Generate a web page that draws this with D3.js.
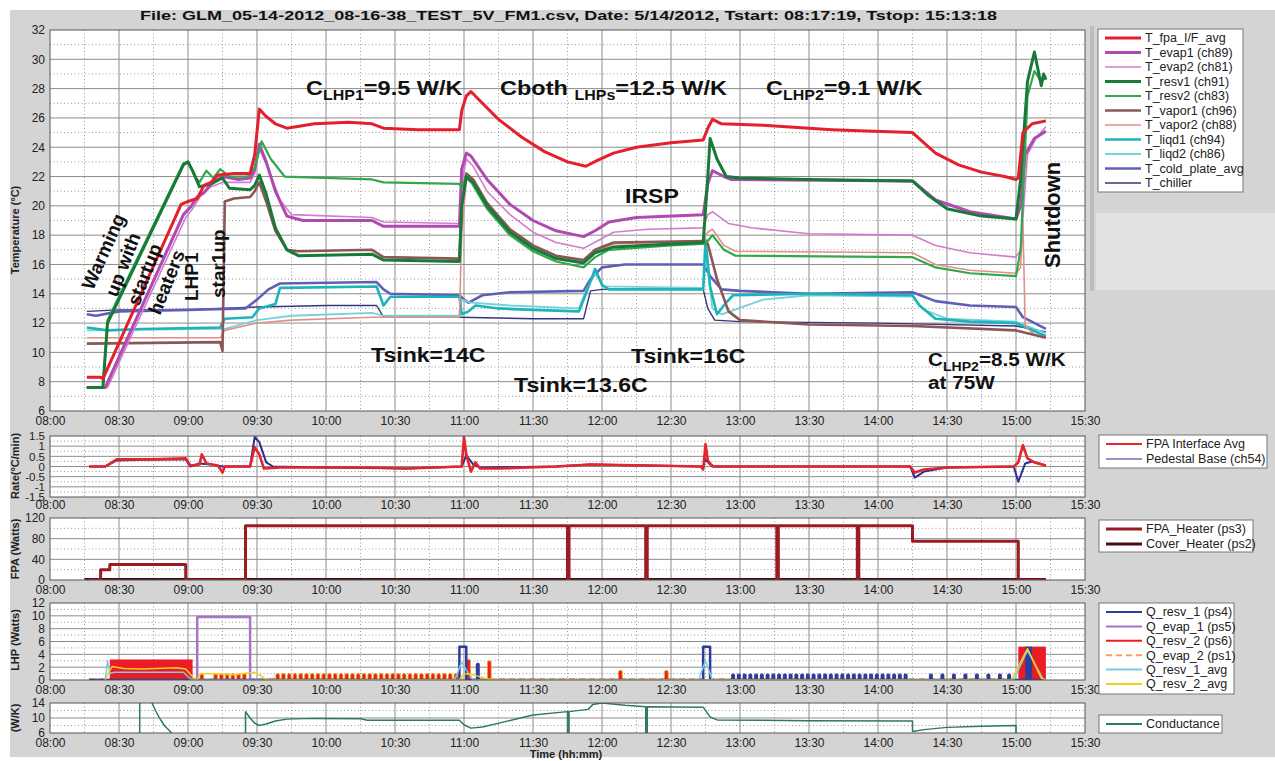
<!DOCTYPE html>
<html>
<head>
<meta charset="utf-8">
<script src="https://cdn.jsdelivr.net/npm/d3@7"></script>
<style>
  body { margin: 0; background: #fff; }
  svg { display: block; }
  text { font-family: "Liberation Sans", Arial, sans-serif; }
</style>
</head>
<body>
<svg id="chart" width="1275" height="761"></svg>
<script>
// ---------------- data ----------------
var timeTicks = ["08:00","08:30","09:00","09:30","10:00","10:30","11:00","11:30","12:00","12:30","13:00","13:30","14:00","14:30","15:00","15:30"];
var tempTicks = [6,8,10,12,14,16,18,20,22,24,26,28,30,32];
var rateTicks = [-1.5,-1,-0.5,0,0.5,1,1.5];
var fpaTicks = [0,40,80,120];
var lhpTicks = [0,2,4,6,8,10,12];
var condTicks = [6,10,14];

var tempNames = ["T_fpa_I/F_avg","T_evap1 (ch89)","T_evap2 (ch81)","T_resv1 (ch91)","T_resv2 (ch83)","T_vapor1 (ch96)","T_vapor2 (ch88)","T_liqd1 (ch94)","T_liqd2 (ch86)","T_cold_plate_avg","T_chiller"];
var rateNames = ["FPA Interface Avg","Pedestal Base (ch54)"];
var fpaNames = ["FPA_Heater (ps3)","Cover_Heater (ps2)"];
var lhpNames = ["Q_resv_1 (ps4)","Q_evap_1 (ps5)","Q_resv_2 (ps6)","Q_evap_2 (ps1)","Q_resv_1_avg","Q_resv_2_avg"];
var condNames = ["Conductance"];

var tFpa = [["08:16",8.3],["08:22",8.3],["08:23",8.2],["08:57",20.1],["09:00",20.3],["09:04",20.5],["09:07",21.4],["09:10",21.6],["09:13",22.1],["09:20",22.2],["09:27",22.2],["09:29",23.5],["09:31",26.6],["09:34",26.1],["09:38",25.6],["09:43",25.3],["09:55",25.6],["10:10",25.7],["10:20",25.6],["10:25",25.3],["10:40",25.2],["10:58",25.2],["10:59",26.5],["11:01",27.5],["11:03",27.8],["11:08",27.0],["11:15",25.9],["11:25",24.7],["11:35",23.7],["11:45",23.0],["11:53",22.7],["11:58",23.1],["12:05",23.6],["12:15",24.0],["12:30",24.3],["12:44",24.5],["12:46",25.3],["12:48",25.9],["12:52",25.6],["13:10",25.5],["13:40",25.2],["13:55",25.1],["14:15",25.0],["14:20",24.3],["14:25",23.6],["14:35",22.8],["14:45",22.3],["14:55",22.0],["15:00",21.8],["15:01",21.9],["15:03",25.0],["15:07",25.6],["15:13",25.8]];
var tEvap1 = [["08:16",7.6],["08:24",7.6],["08:58",19.4],["09:01",19.9],["09:04",20.6],["09:07",20.9],["09:10",21.5],["09:15",22.0],["09:22",21.8],["09:27",21.9],["09:29",22.5],["09:31",24.2],["09:34",23.0],["09:38",21.0],["09:43",19.3],["09:50",19.0],["10:20",19.0],["10:25",18.6],["10:58",18.6],["10:59",22.5],["11:01",23.6],["11:03",23.4],["11:10",21.8],["11:20",20.1],["11:30",19.0],["11:40",18.3],["11:52",17.9],["11:57",18.3],["12:03",18.9],["12:15",19.2],["12:44",19.4],["12:46",21.5],["12:48",22.4],["12:53",22.0],["12:56",21.8],["14:15",21.7],["14:25",20.4],["14:40",19.6],["15:00",19.1],["15:02",20.0],["15:04",23.5],["15:08",24.6],["15:13",25.1]];
var tEvap2 = [["08:16",7.6],["08:25",7.6],["08:59",19.2],["09:02",19.8],["09:06",20.8],["09:10",21.3],["09:15",21.6],["09:27",21.6],["09:29",22.2],["09:31",23.9],["09:35",22.5],["09:40",20.4],["09:45",19.4],["10:20",19.2],["10:25",18.9],["10:58",18.8],["10:59",21.5],["11:01",23.2],["11:04",22.7],["11:10",21.0],["11:20",19.4],["11:30",18.2],["11:40",17.5],["11:52",17.1],["11:58",17.6],["12:05",18.2],["12:20",18.4],["12:44",18.5],["12:46",19.4],["12:48",19.6],["12:55",18.8],["13:05",18.5],["13:30",18.1],["14:15",18.0],["14:25",17.3],["14:40",16.8],["15:00",16.5],["15:02",17.0],["15:05",23.5],["15:09",24.7],["15:13",25.4]];
var tResv1 = [["08:16",7.6],["08:23",7.6],["08:25",12.0],["08:58",22.8],["09:00",23.0],["09:02",22.4],["09:05",21.3],["09:10",21.5],["09:15",21.9],["09:18",21.2],["09:27",21.1],["09:29",21.4],["09:31",22.1],["09:34",20.8],["09:38",18.5],["09:43",17.0],["09:48",16.6],["10:20",16.7],["10:25",16.3],["10:58",16.2],["10:59",20.0],["11:01",22.0],["11:04",21.6],["11:10",20.0],["11:20",18.2],["11:30",17.1],["11:40",16.4],["11:52",16.1],["11:57",16.8],["12:05",17.2],["12:30",17.4],["12:44",17.5],["12:46",22.0],["12:47",24.6],["12:50",23.2],["12:54",22.0],["13:00",21.9],["13:30",21.8],["14:15",21.7],["14:22",20.7],["14:30",19.8],["14:45",19.3],["15:00",19.1],["15:02",21.8],["15:05",28.5],["15:08",30.5],["15:11",28.2],["15:12",29.0],["15:13",28.6]];
var tResv2 = [["08:16",7.6],["08:23",7.6],["08:25",12.2],["08:58",22.9],["09:00",23.0],["09:03",22.0],["09:05",21.6],["09:08",22.4],["09:11",21.9],["09:14",22.5],["09:18",22.0],["09:26",22.0],["09:29",22.6],["09:32",24.4],["09:36",23.2],["09:42",22.0],["10:20",21.8],["10:25",21.6],["10:58",21.5],["10:59",21.2],["11:01",22.1],["11:04",21.4],["11:10",19.8],["11:20",18.0],["11:30",16.9],["11:40",16.2],["11:52",15.8],["11:57",16.5],["12:03",17.0],["12:30",17.3],["12:44",17.4],["12:46",17.6],["12:48",18.0],["12:53",17.0],["12:58",16.6],["14:15",16.5],["14:25",15.8],["14:40",15.4],["15:00",15.2],["15:02",17.0],["15:05",27.5],["15:08",29.2],["15:11",28.5],["15:13",28.9]];
var tVapor1 = [["08:16",10.6],["09:14",10.7],["09:15",10.1],["09:16",20.3],["09:20",20.5],["09:27",20.6],["09:29",21.0],["09:31",21.6],["09:34",20.3],["09:38",18.3],["09:43",17.0],["09:48",16.9],["10:20",17.0],["10:25",16.5],["10:58",16.4],["10:59",20.0],["11:01",22.2],["11:04",21.8],["11:10",20.2],["11:20",18.4],["11:30",17.3],["11:40",16.6],["11:52",16.3],["11:57",17.0],["12:05",17.5],["12:44",17.6],["12:46",17.4],["12:50",15.0],["12:55",12.8],["13:00",12.2],["13:30",11.9],["14:15",11.8],["15:00",11.5],["15:13",11.0]];
var tVapor2 = [["08:16",11.0],["09:14",11.0],["09:16",11.5],["09:30",12.0],["09:45",12.2],["10:20",12.4],["10:58",12.4],["10:59",18.0],["11:01",21.8],["11:04",21.5],["11:10",20.0],["11:20",18.3],["11:30",17.2],["11:40",16.5],["11:52",16.2],["11:57",16.9],["12:05",17.4],["12:44",17.6],["12:46",18.2],["12:48",18.4],["12:53",17.3],["12:58",16.9],["14:15",16.8],["14:25",16.0],["14:40",15.6],["15:00",15.4],["15:02",15.8],["15:03",19.0],["15:04",11.8],["15:08",11.2],["15:13",11.0]];
var tLiqd1 = [["08:16",11.7],["08:25",11.5],["08:40",11.6],["09:14",11.7],["09:16",12.3],["09:28",12.4],["09:31",13.0],["09:38",13.3],["09:40",14.4],["10:22",14.5],["10:25",13.2],["10:28",13.8],["10:58",13.8],["10:59",12.6],["11:02",12.8],["11:05",13.2],["11:15",13.0],["11:30",12.9],["11:50",12.8],["11:53",14.0],["11:57",15.7],["12:00",14.6],["12:03",14.3],["12:44",14.3],["12:45",17.7],["12:47",14.5],["12:50",12.6],["12:54",13.4],["12:57",13.9],["13:30",14.0],["14:15",13.9],["14:18",13.2],["14:25",12.3],["14:40",12.1],["15:00",12.0],["15:13",11.1]];
var tLiqd2 = [["08:16",11.5],["09:14",11.6],["09:16",11.6],["09:30",12.2],["09:45",12.5],["10:20",12.7],["10:25",12.5],["10:58",12.5],["10:59",13.6],["11:03",13.4],["11:20",13.2],["11:50",13.0],["11:53",14.2],["11:57",15.4],["12:01",14.5],["12:44",14.4],["12:45",17.0],["12:48",13.0],["12:52",12.6],["13:10",13.6],["13:30",13.9],["14:15",13.8],["14:20",12.9],["14:30",12.3],["15:00",12.1],["15:13",11.3]];
var tColdPlate = [["08:16",12.6],["08:20",12.5],["08:30",12.8],["09:00",12.9],["09:25",13.0],["09:30",13.6],["09:35",14.3],["09:40",14.7],["10:22",14.8],["10:25",14.3],["10:28",14.0],["10:58",13.9],["11:00",13.6],["11:02",13.4],["11:08",13.9],["11:20",14.1],["11:52",14.2],["11:55",15.0],["12:00",15.8],["12:10",16.0],["12:44",16.0],["12:47",15.2],["12:52",14.3],["13:00",14.2],["13:30",14.0],["14:15",14.1],["14:25",13.5],["14:40",13.2],["15:00",13.1],["15:03",12.4],["15:13",11.6]];
var tChiller = [["08:16",12.8],["08:30",12.9],["09:00",12.9],["09:15",13.0],["09:30",13.1],["10:00",13.2],["10:22",13.2],["10:25",12.4],["10:58",12.4],["11:30",12.3],["11:52",12.3],["11:55",14.2],["12:00",14.3],["12:44",14.3],["12:46",13.0],["12:49",12.2],["13:00",12.1],["14:00",12.0],["15:00",11.8],["15:13",11.4]];

var rateFpa = [["08:17",0],["08:24",0.0],["08:29",0.35],["08:45",0.35],["08:59",0.4],["09:01",0.05],["09:05",0.1],["09:06",0.6],["09:08",0.15],["09:13",0.05],["09:15",-0.3],["09:16",0.0],["09:27",0.0],["09:29",0.95],["09:31",0.6],["09:33",-0.1],["09:40",-0.05],["10:20",-0.05],["10:35",-0.1],["10:59",0.0],["11:00",1.45],["11:01",0.6],["11:03",-0.25],["11:05",0.2],["11:07",-0.1],["11:15",-0.1],["11:40",0.0],["11:55",0.1],["12:20",0.05],["12:43",0.0],["12:44",-0.15],["12:45",1.1],["12:46",0.3],["12:48",0.0],["13:30",0.0],["14:14",0.0],["14:16",-0.3],["14:20",-0.15],["14:30",-0.05],["14:59",0.0],["15:01",0.2],["15:03",1.05],["15:05",0.4],["15:08",0.2],["15:13",0.05]];
var ratePedestal = [["08:17",0],["08:24",0.0],["08:29",0.3],["08:45",0.35],["08:59",0.35],["09:01",0.0],["09:05",0.15],["09:10",0.1],["09:15",0.0],["09:27",0.0],["09:29",1.45],["09:31",1.2],["09:34",0.2],["09:37",0.0],["10:00",-0.05],["10:35",-0.1],["10:59",0.0],["11:01",0.55],["11:04",0.1],["11:07",-0.05],["11:40",0.0],["11:55",0.1],["12:20",0.05],["12:44",0.0],["12:45",0.35],["12:47",0.1],["12:49",0.0],["14:14",0.0],["14:16",-0.55],["14:20",-0.25],["14:30",-0.05],["14:59",0.0],["15:01",-0.75],["15:04",0.15],["15:07",0.25],["15:13",0.05]];

var fpaHeater = [["08:17",0],["08:22",0],["08:22",20],["08:26",20],["08:26",30],["08:59",30],["08:59",0],["09:25",0],["09:25",105],["11:45",105],["11:45",0],["11:45:40",0],["11:45:40",105],["12:19",105],["12:19",0],["12:19:40",0],["12:19:40",105],["13:16",105],["13:16",0],["13:16:40",0],["13:16:40",105],["13:51",105],["13:51",0],["13:51:40",0],["13:51:40",105],["14:15",105],["14:15",75],["15:01",75],["15:01",0],["15:13",0]];
var coverHeater = [["08:15",1],["15:13",1]];

var qResv1 = [["08:17",0],["10:58",0],["10:58",5.2],["11:01",5.2],["11:01",0],["12:44",0],["12:44",5.2],["12:47",5.2],["12:47",0],["15:13",0]];
var qEvap1 = [["08:17",0],["09:04",0],["09:04",9.8],["09:27",9.8],["09:27",0],["09:40",0]];
var qEvap2 = [["08:17",0.1],["15:13",0.1]];
var qResv1Avg = [["08:24",0],["08:25",3.0],["08:26",1.0],["08:28",1.2],["08:58",1.2],["09:01",0.2],["09:03",0],["10:56",0],["10:59",2.8],["11:02",1.0],["11:04",0],["12:42",0],["12:45",3.0],["12:48",0],["14:59",0],["15:05",4.6],["15:12",0]];
var qResv2Avg = [["08:24",0],["08:26",1.5],["08:27",2.1],["08:32",1.8],["08:40",1.7],["08:55",1.9],["08:59",1.7],["09:02",0.5],["09:04",0.0],["09:05",0.9],["09:08",1.0],["09:20",0.8],["09:26",1.1],["09:29",1.2],["09:32",0.6],["09:34",0.0],["10:58",0.0],["11:00",1.0],["11:04",0.8],["11:10",0.2],["11:15",0.0],["14:58",0.0],["15:05",4.9],["15:11",0.3],["15:13",0.0]];
var qResv2Blocks = [["08:26","09:02",3.2],["15:01","15:13",5.2]];
var qResv1Blocks = [["15:04","15:07",5.2]];
var qResv2Pulses = [["09:06",1],["09:12",1],["09:14:30",1],["09:17",1],["09:19:30",1],["09:22",1],["09:24:30",1],
  ["09:39",1],["09:41:30",1],["09:44",1],["09:46:30",1],["09:49",1],["09:51:30",1],["09:54",1],["09:56:30",1],["09:59",1],["10:01:30",1],
  ["10:04",1],["10:06:30",1],["10:09",1],["10:11:30",1],["10:14",1],["10:16:30",1],["10:19",1],["10:21:30",1],["10:24",1],["10:26:30",1],
  ["10:29",1],["10:31:30",1],["10:34",1],["10:36:30",1],["10:39",1],["10:41:30",1],["10:44",1],["10:46:30",1],["10:49",1],["10:51:30",1],["10:54",1],["10:56:30",1],
  ["11:02",3.2],["11:11",3.0],["12:08",1.5],["12:28",1.5]];
var qResv1Pulses = [["11:06",2.7],
  ["12:57",1],["12:59:30",1],["13:02",1],["13:04:30",1],["13:07",1],["13:09:30",1],["13:12",1],["13:14:30",1],["13:17",1],["13:19:30",1],
  ["13:22",1],["13:24:30",1],["13:27",1],["13:29:30",1],["13:32",1],["13:34:30",1],["13:37",1],["13:39:30",1],["13:42",1],["13:44:30",1],
  ["13:47",1],["13:49:30",1],["13:52",1],["13:54:30",1],["13:57",1],["13:59:30",1],["14:02",1],["14:04:30",1],["14:07",1],["14:09:30",1],["14:12",1],
  ["14:23",1],["14:28",1],["14:33",1],["14:38",1],["14:43",1],["14:48",1],["14:53",1],["14:57",1]];

var conductance = [
  [["08:39",5],["08:39",15]],
  [["08:44",14.5],["08:46",11.8],["08:48",9.6],["08:50",7.8],["08:52",6.6],["08:53",5.8]],
  [["09:25",5],["09:25",11.7],["09:27",10.0],["09:29",8.6],["09:31",8.0],["09:34",8.4],["09:38",9.2],["09:43",9.7],["09:55",9.9],["10:15",9.8],["10:18",9.4],["10:58",9.4],["11:00",8.2],["11:03",7.3],["11:08",7.6],["11:17",8.9],["11:30",10.8],["11:45",11.7],["11:45",5],["11:45:40",5],["11:45:40",11.7],["11:54",12.3],["11:56",13.6],["12:00",14.0],["12:10",13.4],["12:19",13.0],["12:19",5],["12:19:40",5],["12:19:40",13.0],["12:44",12.9],["12:47",10.3],["12:50",9.5],["13:30",9.3],["14:15",9.2],["14:15",6.4],["14:20",6.9],["14:30",7.5],["14:45",7.8],["15:00",8.0],["15:00",5]]
];

// ---------------- helpers ----------------
function toMin(s) {
  var p = s.split(':');
  return +p[0] * 60 + +p[1] + (p[2] ? +p[2] / 60 : 0);
}
function fmtTime(m) {
  var h = Math.floor(m / 60), mm = Math.round(m % 60);
  return (h < 10 ? '0' : '') + h + ':' + (mm < 10 ? '0' : '') + mm;
}

var X0 = 50, X1 = 1085;
var x = d3.scaleLinear().domain([toMin("08:00"), toMin("15:30")]).range([X0, X1]);
var tickMins = timeTicks.map(toMin);

var svg = d3.select('#chart');
svg.append('rect').attr('width', 1275).attr('height', 761).attr('fill', '#fff');
svg.append('rect').attr('x', 10).attr('y', 10).attr('width', 1265).attr('height', 747).attr('fill', '#d4d4d4');
svg.append('rect').attr('x', 1096).attr('y', 213).attr('width', 179).attr('height', 77).attr('fill', '#e2e2e2');
svg.append('rect').attr('x', 1090).attr('y', 26).attr('width', 4).attr('height', 265).attr('fill', '#bdbdbd');

var bgLayer = svg.append('g');
var dataLayer = svg.append('g');
var frameLayer = svg.append('g');
var defs = svg.append('defs');

function makePanel(o) {
  var y = d3.scaleLinear().domain(o.domain).range([o.bottom, o.top]);
  bgLayer.append('rect').attr('x', X0).attr('y', o.top).attr('width', X1 - X0)
    .attr('height', o.bottom - o.top).attr('fill', '#fff');
  var grid = bgLayer.append('g');
  tickMins.forEach(function(m, i) {
    if (i < tickMins.length - 1) {
      grid.append('line').attr('x1', x(m + 15)).attr('x2', x(m + 15)).attr('y1', o.top).attr('y2', o.bottom)
        .attr('stroke', '#9a9a9a').attr('stroke-dasharray', '1,2.5');
    }
    if (i > 0 && i < tickMins.length - 1) {
      grid.append('line').attr('x1', x(m)).attr('x2', x(m)).attr('y1', o.top).attr('y2', o.bottom)
        .attr('stroke', '#8c8c8c');
    }
  });
  o.minor.forEach(function(v) {
    grid.append('line').attr('x1', X0).attr('x2', X1).attr('y1', y(v)).attr('y2', y(v))
      .attr('stroke', '#9a9a9a').attr('stroke-dasharray', '1,2.5');
  });
  o.major.forEach(function(v) {
    grid.append('line').attr('x1', X0).attr('x2', X1).attr('y1', y(v)).attr('y2', y(v))
      .attr('stroke', '#8c8c8c');
  });
  defs.append('clipPath').attr('id', 'clip-' + o.id).append('rect')
    .attr('x', X0).attr('y', o.top).attr('width', X1 - X0).attr('height', o.bottom - o.top);
  var g = dataLayer.append('g').attr('clip-path', 'url(#clip-' + o.id + ')');

  frameLayer.append('rect').attr('x', X0).attr('y', o.top).attr('width', X1 - X0)
    .attr('height', o.bottom - o.top).attr('fill', 'none').attr('stroke', '#555');

  var ax = frameLayer.append('g').attr('transform', 'translate(0,' + o.bottom + ')')
    .call(d3.axisBottom(x).tickValues(tickMins).tickFormat(fmtTime).tickSize(0).tickPadding(o.xpad));
  var ay = frameLayer.append('g').attr('transform', 'translate(' + X0 + ',0)')
    .call(d3.axisLeft(y).tickValues(o.labels).tickFormat(function(d) { return String(d); }).tickSize(0).tickPadding(5));
  [ax, ay].forEach(function(a) {
    a.select('.domain').remove();
    a.selectAll('text').attr('font-size', o.fs || 12).attr('fill', '#222')
      .attr('font-family', '"Liberation Sans", Arial, sans-serif');
  });
  ay.selectAll('text').attr('font-size', o.yfs || 12);
  frameLayer.append('text')
    .attr('transform', 'translate(' + o.labelX + ',' + o.labelY + ') rotate(-90)')
    .attr('text-anchor', 'middle').attr('font-size', o.labelSize).attr('font-weight', 'bold')
    .attr('fill', '#222').text(o.label);
  return { g: g, y: y };
}

function drawLine(p, data, color, width, dash) {
  var line = d3.line().x(function(d) { return x(toMin(d[0])); }).y(function(d) { return p.y(d[1]); });
  p.g.append('path').datum(data).attr('d', line).attr('fill', 'none')
    .attr('stroke', color).attr('stroke-width', width).attr('stroke-linejoin', 'round')
    .attr('stroke-dasharray', dash || null);
}

function legend(x0, y0, w, h, rowH, items) {
  var g = frameLayer.append('g');
  g.append('rect').attr('x', x0).attr('y', y0).attr('width', w).attr('height', h)
    .attr('fill', '#fff').attr('stroke', '#777');
  items.forEach(function(it, i) {
    var yy = y0 + 9 + i * rowH;
    g.append('line').attr('x1', x0 + 7).attr('x2', x0 + 43).attr('y1', yy).attr('y2', yy)
      .attr('stroke', it.color).attr('stroke-width', Math.min(it.w, 3)).attr('stroke-dasharray', it.dash || null);
    g.append('text').attr('x', x0 + 47).attr('y', yy + 4.3).attr('font-size', 12.5).attr('fill', '#222').text(it.name);
  });
}

// ---------------- title ----------------
svg.append('text').attr('x', 140).attr('y', 20).attr('font-size', 13).attr('font-weight', 'bold')
  .attr('font-family', '"DejaVu Sans", Verdana, sans-serif').attr('fill', '#111')
  .attr('textLength', 857).attr('lengthAdjust', 'spacingAndGlyphs')
  .text("File: GLM_05-14-2012_08-16-38_TEST_5V_FM1.csv,  Date: 5/14/2012,  Tstart: 08:17:19,  Tstop: 15:13:18");

// ---------------- main temperature panel ----------------
var pT = makePanel({ id: 'temp', top: 30, bottom: 411, domain: [6, 32],
  major: [8,10,12,14,16,18,20,22,24,26,28,30], minor: [7,9,11,13,15,17,19,21,23,25,27,29,31],
  labels: tempTicks, xpad: 5.5, label: 'Temperature (°C)', labelX: 19, labelY: 230, labelSize: 11 });

var tempSeries = [
  { name: tempNames[0], data: tFpa, color: '#e3202b', w: 3 },
  { name: tempNames[1], data: tEvap1, color: '#b04ab0', w: 3 },
  { name: tempNames[2], data: tEvap2, color: '#d27ccf', w: 1.6 },
  { name: tempNames[3], data: tResv1, color: '#187a38', w: 3 },
  { name: tempNames[4], data: tResv2, color: '#33a84b', w: 2.2 },
  { name: tempNames[5], data: tVapor1, color: '#8c5656', w: 2.6 },
  { name: tempNames[6], data: tVapor2, color: '#e0908c', w: 1.6 },
  { name: tempNames[7], data: tLiqd1, color: '#1cb4b8', w: 2.6 },
  { name: tempNames[8], data: tLiqd2, color: '#74d2d8', w: 1.8 },
  { name: tempNames[9], data: tColdPlate, color: '#5f5fb8', w: 2.6 },
  { name: tempNames[10], data: tChiller, color: '#33367e', w: 1.4 }
];
[10, 9, 8, 7, 6, 5, 2, 1, 4, 3, 0].forEach(function(i) {
  var s = tempSeries[i];
  drawLine(pT, s.data, s.color, s.w);
});
legend(1098, 29, 145, 163, 14.5, tempSeries);

// annotations
function annot(x0, y0, parts, size, sx) {
  var t = frameLayer.append('text').attr('transform', 'translate(' + x0 + ',' + y0 + ') scale(' + sx + ',1)')
    .attr('font-size', size).attr('font-weight', 'bold').attr('fill', '#111');
  var shifted = false;
  parts.forEach(function(p) {
    var sp = t.append('tspan').text(p[0]);
    if (p[1]) { sp.attr('font-size', size * 0.68).attr('dy', size * 0.25); shifted = true; }
    else if (shifted) { sp.attr('dy', -size * 0.25); shifted = false; }
  });
}
annot(306, 95, [["C"], ["LHP1", 1], ["=9.5 W/K"]], 21, 1.12);
annot(500, 95, [["Cboth "], ["LHPs", 1], ["=12.5 W/K"]], 21, 1.12);
annot(766, 95, [["C"], ["LHP2", 1], ["=9.1 W/K"]], 21, 1.12);
annot(625, 203, [["IRSP"]], 21, 1.1);
annot(371, 362, [["Tsink=14C"]], 21, 1.1);
annot(631, 363, [["Tsink=16C"]], 21, 1.1);
annot(514, 392, [["Tsink=13.6C"]], 21, 1.1);
annot(928, 366, [["C"], ["LHP2", 1], ["=8.5 W/K"]], 18.5, 1.12);
annot(928, 389, [["at 75W"]], 18.5, 1.12);

function rot(x0, y0, ang, str, size) {
  frameLayer.append('text').attr('transform', 'translate(' + x0 + ',' + y0 + ') rotate(' + ang + ')')
    .attr('font-size', size).attr('font-weight', 'bold').attr('fill', '#111').text(str);
}
rot(93, 291, -66, 'Warming', 19);
rot(117, 298, -69, 'up with', 19);
rot(139, 307, -69, 'startup', 19);
rot(160, 316, -68, 'heaters', 19);
rot(198, 301, -90, 'LHP1', 19);
rot(225, 298, -90, 'star1up', 19);
rot(1060, 268, -90, 'Shutdown', 22);

// ---------------- rate panel ----------------
var pR = makePanel({ id: 'rate', top: 436, bottom: 497, domain: [-1.5, 1.5],
  major: [-1, -0.5, 0, 0.5, 1], minor: [-1.25, -0.75, -0.25, 0.25, 0.75, 1.25],
  labels: rateTicks, xpad: 3.5, yfs: 11.5, label: 'Rate(°C/min)', labelX: 19, labelY: 466, labelSize: 11 });
var rateSeries = [
  { name: rateNames[0], data: rateFpa, color: '#e5242b', w: 2.6 },
  { name: rateNames[1], data: ratePedestal, color: '#2a2f95', w: 2 }
];
drawLine(pR, rateSeries[1].data, rateSeries[1].color, rateSeries[1].w);
drawLine(pR, rateSeries[0].data, rateSeries[0].color, rateSeries[0].w);
legend(1099, 435, 168, 33, 15, [
  { name: rateNames[0], color: '#e5242b', w: 2 }, { name: rateNames[1], color: '#2a2f95', w: 1.2 }]);

// ---------------- FPA heater panel ----------------
var pF = makePanel({ id: 'fpa', top: 518, bottom: 580, domain: [0, 120],
  major: [40, 80], minor: [20, 60, 100],
  labels: fpaTicks, xpad: 5, label: 'FPA (Watts)', labelX: 19, labelY: 549, labelSize: 11 });
drawLine(pF, coverHeater, '#4a0c14', 3);
drawLine(pF, fpaHeater, '#9c1b22', 3);
legend(1099, 520, 154, 32, 15, [
  { name: fpaNames[0], color: '#9c1b22', w: 3 }, { name: fpaNames[1], color: '#4a0c14', w: 3 }]);

// ---------------- LHP panel ----------------
var pL = makePanel({ id: 'lhp', top: 603, bottom: 680, domain: [0, 12],
  major: [2, 4, 6, 8, 10], minor: [1, 3, 5, 7, 9, 11],
  labels: lhpTicks, xpad: 5, label: 'LHP (Watts)', labelX: 19, labelY: 640, labelSize: 11 });
var lhpColors = ['#2e3c9e', '#a874c8', '#ec1c24', '#f4a460', '#78cce6', '#f2d020'];
drawLine(pL, qEvap2, lhpColors[3], 2, '6,4');
drawLine(pL, qEvap1, lhpColors[1], 2.5);
pL.g.selectAll('rect.blk2').data(qResv2Blocks).enter().append('rect')
  .attr('x', function(d) { return x(toMin(d[0])); })
  .attr('width', function(d) { return x(toMin(d[1])) - x(toMin(d[0])); })
  .attr('y', function(d) { return pL.y(d[2]); })
  .attr('height', function(d) { return pL.y(0) - pL.y(d[2]); })
  .attr('fill', lhpColors[2]);
pL.g.selectAll('rect.p2').data(qResv2Pulses).enter().append('rect')
  .attr('x', function(d) { return x(toMin(d[0])) - 1.8; }).attr('width', 3.6)
  .attr('y', function(d) { return pL.y(d[1]); })
  .attr('height', function(d) { return pL.y(0) - pL.y(d[1]); })
  .attr('rx', 1.6).attr('fill', lhpColors[2]).attr('stroke', '#f3a000').attr('stroke-width', 0.8);
pL.g.selectAll('rect.p1').data(qResv1Pulses).enter().append('rect')
  .attr('x', function(d) { return x(toMin(d[0])) - 2; }).attr('width', 4)
  .attr('y', function(d) { return pL.y(d[1]); })
  .attr('height', function(d) { return pL.y(0) - pL.y(d[1]); })
  .attr('rx', 1.8).attr('fill', lhpColors[0]);
pL.g.selectAll('rect.blk1').data(qResv1Blocks).enter().append('rect')
  .attr('x', function(d) { return x(toMin(d[0])); })
  .attr('width', function(d) { return x(toMin(d[1])) - x(toMin(d[0])); })
  .attr('y', function(d) { return pL.y(d[2]); })
  .attr('height', function(d) { return pL.y(0) - pL.y(d[2]); })
  .attr('fill', lhpColors[0]);
drawLine(pL, qResv1, lhpColors[0], 2.5);
drawLine(pL, qResv1Avg, lhpColors[4], 1.5);
drawLine(pL, qResv2Avg, lhpColors[5], 1.5);
legend(1099, 603, 135, 91, 14.4, lhpNames.map(function(n, i) {
  return { name: n, color: lhpColors[i], w: 2, dash: i === 3 ? '6,4' : null };
}));

// ---------------- conductance panel ----------------
var pC = makePanel({ id: 'cond', top: 703, bottom: 733, domain: [6, 14],
  major: [10], minor: [8, 12],
  labels: condTicks, xpad: 5, label: '(W/K)', labelX: 19, labelY: 718, labelSize: 11 });
conductance.forEach(function(seg) { drawLine(pC, seg, '#2e7a5c', 1.5); });
legend(1099, 715, 123, 18, 14, [{ name: condNames[0], color: '#2e7a5c', w: 2 }]);

svg.append('text').attr('x', 566).attr('y', 758).attr('text-anchor', 'middle')
  .attr('font-size', 11).attr('font-weight', 'bold').attr('fill', '#222').text('Time (hh:mm)');
</script>
</body>
</html>
